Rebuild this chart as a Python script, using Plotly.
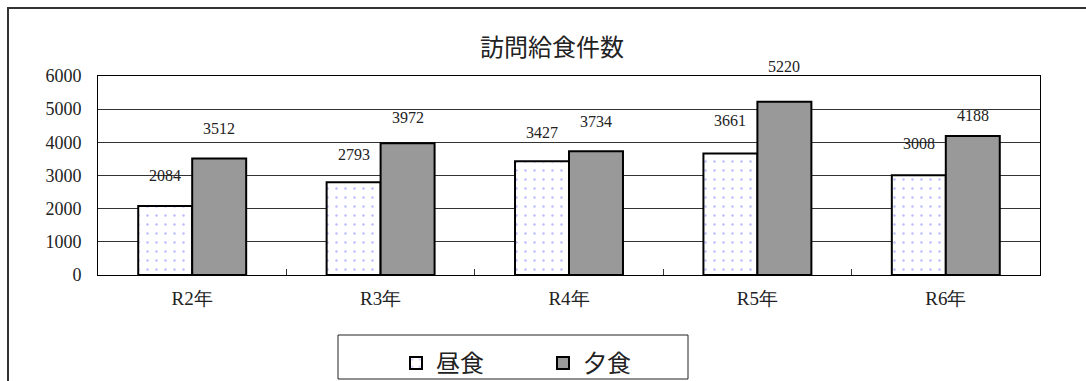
import plotly.graph_objects as go

# 訪問給食件数 by fiscal year
years = ["R2年", "R3年", "R4年", "R5年", "R6年"]
lunch = [2084, 2793, 3427, 3661, 3008]    # 昼食
dinner = [3512, 3972, 3734, 5220, 4188]   # 夕食
y_ticks = [0, 1000, 2000, 3000, 4000, 5000, 6000]

# pixel lift of each value label above its bar top
lunch_label_lift = [30, 28, 29, 33, 32]
dinner_label_lift = [30, 26, 30, 35, 21]

W, H = 1086, 381
L, R, T, B = 98, 1040, 76, 275  # plot area in pixels


def px_x(p):
    return (p - L) / (R - L)


def px_y(p):
    return (B - p) / (B - T)


serif = "'Liberation Serif', 'DejaVu Serif', serif"
cjk = "'Noto Sans CJK JP', sans-serif"

fig = go.Figure()
fig.add_trace(go.Bar(
    name="昼食", x=years, y=lunch,
    marker=dict(color="white", line=dict(color="black", width=2),
                pattern=dict(shape=".", fgcolor="#7878ff", bgcolor="white",
                             size=9, solidity=0.06)),
))
fig.add_trace(go.Bar(
    name="夕食", x=years, y=dinner,
    marker=dict(color="#999999", line=dict(color="black", width=2)),
))

# value labels above each bar
half_bar = (1 - 0.427) / 4
annotations = []
for i, yr in enumerate(years):
    for sign, vals, lifts in ((-1, lunch, lunch_label_lift), (1, dinner, dinner_label_lift)):
        annotations.append(dict(
            x=i + sign * half_bar, y=vals[i], xref="x", yref="y",
            xanchor="center", yanchor="middle",
            text=str(vals[i]), showarrow=False, yshift=lifts[i],
            font=dict(family=serif, size=16, color="#222"),
        ))

annotations.append(dict(
    x=px_x(552), y=px_y(45), xref="paper", yref="paper",
    xanchor="center", yanchor="middle",
    text="訪問給食件数", showarrow=False,
    font=dict(family=cjk, size=24, color="#222"),
))

shapes = [
    # outer chart frame (top and left edges)
    dict(type="path", xref="paper", yref="paper",
         path=f"M {px_x(8)},{px_y(400)} L {px_x(8)},{px_y(8)} L {px_x(1100)},{px_y(8)}",
         line=dict(color="#333", width=2)),
    # legend box
    dict(type="rect", xref="paper", yref="paper",
         x0=px_x(338), x1=px_x(688), y0=px_y(335), y1=px_y(379),
         line=dict(color="#222", width=1), fillcolor="white", layer="below"),
]

fig.update_layout(
    width=W, height=H,
    margin=dict(l=L, r=W - R, t=T, b=H - B, autoexpand=False),
    paper_bgcolor="white", plot_bgcolor="white",
    barmode="group", bargap=0.427, bargroupgap=0,
    font=dict(family=serif, size=16, color="#222"),
    showlegend=True,
    legend=dict(orientation="h", x=px_x(396), y=px_y(341), xanchor="left", yanchor="top",
                bgcolor="rgba(0,0,0,0)", borderwidth=0,
                entrywidth=102, entrywidthmode="pixels", itemwidth=30,
                font=dict(family=cjk, size=24, color="#222")),
    annotations=annotations,
    shapes=shapes,
    xaxis=dict(
        showline=True, linecolor="black", linewidth=1, mirror=True,
        ticks="inside", tickson="boundaries", ticklen=6, tickcolor="#333",
        showgrid=False, tickfont=dict(family=serif, size=19, color="#222"),
        ticklabelstandoff=6,
    ),
    yaxis=dict(
        range=[0, 6000], tickvals=y_ticks,
        showline=True, linecolor="black", linewidth=1, mirror=True,
        showgrid=True, gridcolor="#333", gridwidth=1, zeroline=False,
        ticks="", tickfont=dict(family=serif, size=18, color="#222"),
        ticklabelstandoff=12,
    ),
)

fig.write_html("out.html")
